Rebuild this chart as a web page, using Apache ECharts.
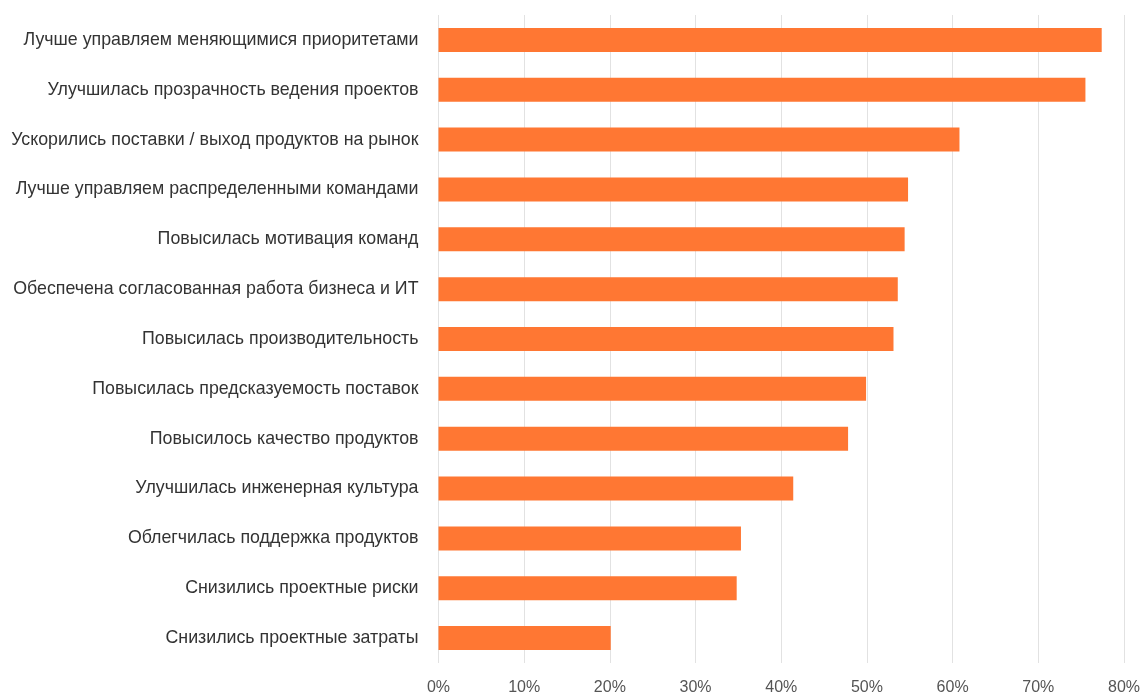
<!DOCTYPE html>
<html><head><meta charset="utf-8">
<script src="https://cdn.jsdelivr.net/npm/echarts@6/dist/echarts.min.js"></script>
<style>html,body{margin:0;padding:0;background:#fff}#c{width:1143px;height:696px}</style>
</head><body><div id="c"></div>
<script>
const categories = [
  "Лучше управляем меняющимися приоритетами",
  "Улучшилась прозрачность ведения проектов",
  "Ускорились поставки / выход продуктов на рынок",
  "Лучше управляем распределенными командами",
  "Повысилась мотивация команд",
  "Обеспечена согласованная работа бизнеса и ИТ",
  "Повысилась производительность",
  "Повысилась предсказуемость поставок",
  "Повысилось качество продуктов",
  "Улучшилась инженерная культура",
  "Облегчилась поддержка продуктов",
  "Снизились проектные риски",
  "Снизились проектные затраты"
];
const values = [77.4, 75.5, 60.8, 54.8, 54.4, 53.6, 53.1, 49.9, 47.8, 41.4, 35.3, 34.8, 20.1];
const xTicks = [0, 10, 20, 30, 40, 50, 60, 70, 80];

const chart = echarts.init(document.getElementById('c'));
chart.setOption({
  animation: false,
  grid: {left: 438.5, right: 19, top: 15, bottom: 33, containLabel: false},
  xAxis: {
    type: 'value', min: xTicks[0], max: xTicks[xTicks.length - 1], interval: 10,
    axisLine: {show: false}, axisTick: {show: false},
    splitLine: {lineStyle: {color: '#e2e2e2', width: 1}},
    axisLabel: {formatter: v => v + '%', color: '#555', fontSize: 16, fontFamily: 'Liberation Sans, Arial', margin: 17}
  },
  yAxis: {
    type: 'category', inverse: true, data: categories,
    axisLine: {show: false}, axisTick: {show: false},
    axisLabel: {color: '#333', fontSize: 17.8, fontFamily: 'Liberation Sans, Arial', margin: 20}
  },
  series: [{
    type: 'bar', data: values, barWidth: 24,
    itemStyle: {color: '#ff7733'}
  }]
});
</script></body></html>
